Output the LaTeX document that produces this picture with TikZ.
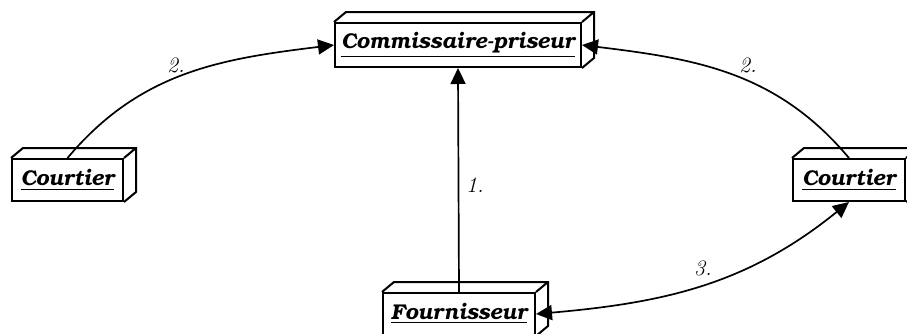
\documentclass[tikz,border=0pt]{standalone}
\usepackage[T1,TU]{fontenc}
\usepackage{tikz}
\usetikzlibrary{arrows.meta}
\newcommand{\bkfont}{\fontencoding{T1}\fontfamily{pbk}\fontsize{10.7}{12}\bfseries\itshape\selectfont}
% 3D face of a node box
\newcommand{\depth}[1]{%
  \draw[box edge] (#1.north west) -- ++(12,-10) -- ([shift={(12,-10)}]#1.north east)
    -- ([shift={(12,-10)}]#1.south east) -- (#1.south east)
    (#1.north east) -- ++(12,-10);}

\begin{document}
\begin{tikzpicture}[
  x=0.5pt, y=-0.5pt,
  >={Triangle[length=8pt,width=7.5pt]},
  box edge/.style={line width=1pt, line join=miter},
  nd/.style={draw, line width=1pt, fill=white, inner sep=0pt, font=\bkfont},
  flow/.style={->, line width=0.85pt},
  lbl/.style={font=\fontsize{11}{13}\itshape\selectfont},
]
\useasboundingbox (0,0) rectangle (907,333);

\node[nd, minimum width=123pt, minimum height=22pt] (comm) at (458,45) {\underline{Commissaire-priseur}};
\node[nd, minimum width=55.5pt, minimum height=21pt] (courtA) at (67.5,180) {\underline{Courtier}};
\node[nd, minimum width=56pt, minimum height=21pt] (courtB) at (849,180) {\underline{Courtier}};
\node[nd, minimum width=76pt, minimum height=21pt] (fourn) at (459,314) {\underline{Fournisseur}};
\depth{comm}
\depth{courtA}
\depth{courtB}
\depth{fourn}

\draw[flow] (fourn.north) -- (comm.south);
\draw[flow] (courtA.north) to[out=50, in=187] (comm.west);
\draw[flow] (courtB.north) to[out=130, in=-7] (comm.east);
\draw[flow, <->] (fourn.east) to[out=5, in=-141] (courtB.south);

\node[lbl] (l1) at (475,185) {1.};
\node[lbl] (l2a) at (176,65) {2.};
\node[lbl] (l2b) at (748,65) {2.};
\node[lbl] (l3) at (703,268) {3.};
\end{tikzpicture}
\end{document}
